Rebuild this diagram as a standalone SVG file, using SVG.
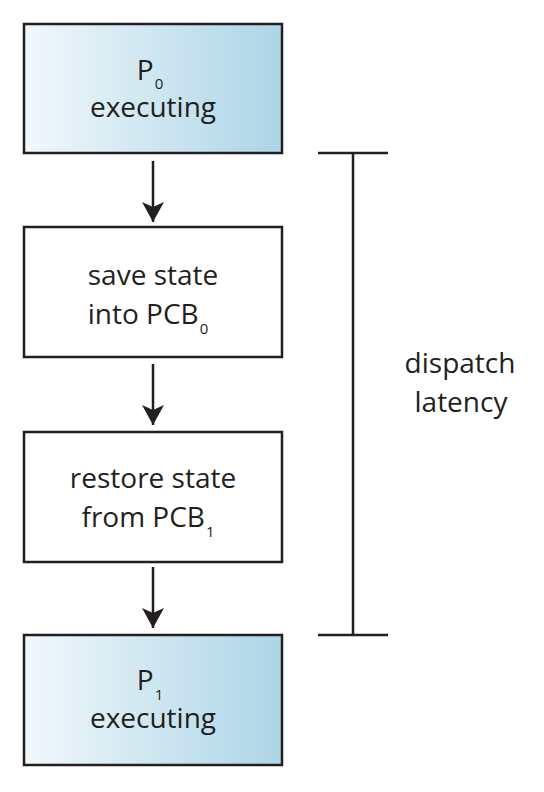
<svg xmlns="http://www.w3.org/2000/svg" width="544" height="792" viewBox="0 0 544 792">
<style>
.box{stroke:#231f20;stroke-width:2.5}
.t{font-family:"Open Sans","Noto Sans",sans-serif;font-size:28px;fill:#231f20;text-anchor:middle}
.s{font-size:15px}
.c{stroke:#231f20;stroke-width:2.5;fill:none}
</style>
<defs>
<linearGradient id="g" x1="0" y1="0" x2="1" y2="0">
<stop offset="0" stop-color="#f1f8fb"/>
<stop offset="1" stop-color="#acd5e7"/>
</linearGradient>
<marker id="a" viewBox="0 0 20 22" refX="20" refY="11" markerWidth="20" markerHeight="22" markerUnits="userSpaceOnUse" orient="auto">
<path d="M0,0 L20,11 L0,22 L5,11 Z" fill="#231f20"/>
</marker>
</defs>
<g id="p0">
<rect class="box" x="24" y="24" width="258" height="129" fill="url(#g)"/>
<text class="t" x="150" y="80">P<tspan class="s" dx="1" dy="9">0</tspan></text>
<text class="t" x="153" y="117">executing</text>
</g>
<g id="save">
<rect class="box" x="24" y="227" width="258" height="130" fill="#fff"/>
<text class="t" x="153" y="285">save state</text>
<text class="t" x="148" y="324">into PCB<tspan class="s" dx="1" dy="10">0</tspan></text>
</g>
<g id="restore">
<rect class="box" x="24" y="432" width="258" height="130" fill="#fff"/>
<text class="t" x="153" y="488">restore state</text>
<text class="t" x="148" y="527">from PCB<tspan class="s" dx="1" dy="10">1</tspan></text>
</g>
<g id="p1">
<rect class="box" x="24" y="635" width="258" height="130" fill="url(#g)"/>
<text class="t" x="150" y="690">P<tspan class="s" dx="1" dy="10">1</tspan></text>
<text class="t" x="153" y="728">executing</text>
</g>
<g id="connectors">
<line class="c" x1="153" y1="161" x2="153" y2="222" marker-end="url(#a)"/>
<line class="c" x1="153" y1="364" x2="153" y2="425" marker-end="url(#a)"/>
<line class="c" x1="153" y1="567" x2="153" y2="628" marker-end="url(#a)"/>
</g>
<g id="bracket">
<line class="c" x1="318" y1="153" x2="388" y2="153"/>
<line class="c" x1="353" y1="153" x2="353" y2="635"/>
<line class="c" x1="318" y1="635" x2="388" y2="635"/>
<text class="t" x="460" y="373" font-size="29">dispatch</text>
<text class="t" x="461" y="412" font-size="29">latency</text>
</g>
</svg>
